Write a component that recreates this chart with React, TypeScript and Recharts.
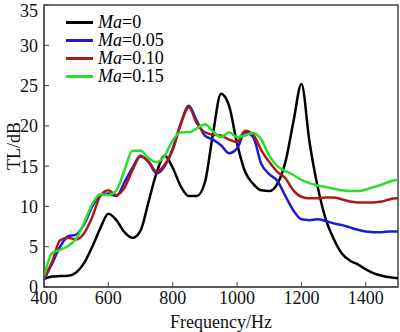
import React from "react";
import { LineChart, Line, XAxis, YAxis, ReferenceArea } from "recharts";

const freq = [
  400, 425, 450, 475, 500, 525, 550, 575, 600, 625, 650, 675, 700, 725, 750,
  775, 800, 825, 850, 875, 900, 925, 950, 975, 1000, 1025, 1050, 1075, 1100,
  1125, 1150, 1175, 1200, 1225, 1250, 1275, 1300, 1325, 1350, 1375, 1400,
  1425, 1450, 1475, 1500,
];

const ma0 = [
  1.0, 1.3, 1.35, 1.4, 1.8, 3.0, 5.0, 7.3, 9.1, 8.3, 6.8, 6.1, 7.0, 10.6, 14.2,
  16.3, 14.8, 12.5, 11.3, 11.3, 13.0, 19.0, 24.0, 22.5, 17.8, 14.3, 12.8, 12.0,
  11.9, 12.8, 15.5, 20.5, 25.2, 18.0, 12.5, 8.5, 6.0, 4.2, 3.3, 2.8, 2.2, 1.7,
  1.4, 1.2, 1.1,
];

const ma005 = [
  0.9, 2.9, 5.0, 6.3, 6.5, 7.8, 10.0, 11.4, 11.6, 11.3, 13.0, 14.8, 16.3, 15.5,
  14.1, 15.0, 17.2, 20.3, 22.5, 20.6, 18.8, 18.3, 17.6, 16.6, 17.2, 19.2, 18.6,
  15.3, 14.0, 13.2, 11.3, 9.5, 8.4, 8.3, 8.4, 8.2, 7.9, 7.7, 7.4, 7.1, 6.9,
  6.8, 6.8, 6.9, 6.9,
];

const ma010 = [
  1.1, 3.1, 5.8, 6.1, 5.9, 6.7, 8.7, 11.3, 12.0, 11.4, 12.3, 14.5, 16.2, 15.6,
  14.3, 15.2, 17.0, 20.2, 22.3, 20.3, 19.2, 18.9, 18.8, 18.3, 18.0, 19.4, 18.9,
  17.0, 15.5, 14.3, 13.5, 12.0, 11.2, 11.0, 11.0, 11.1, 11.1, 10.9, 10.6, 10.5,
  10.5, 10.5, 10.6, 10.9, 11.0,
];

const ma015 = [
  1.3, 4.2, 4.6, 5.1, 6.0, 8.0, 10.3, 11.5, 11.4, 12.0, 14.5, 16.9, 16.9, 16.0,
  15.5, 16.3, 18.2, 19.2, 19.2, 19.7, 20.2, 19.3, 18.6, 19.2, 18.6, 18.8, 19.1,
  18.3, 16.3, 15.0, 14.4, 13.9, 13.3, 12.9, 12.6, 12.4, 12.2, 12.0, 11.9, 11.9,
  12.1, 12.4, 12.7, 13.1, 13.3,
];

const xTicks = [400, 600, 800, 1000, 1200, 1400];
const yTicks = [0, 5, 10, 15, 20, 25, 30, 35];

const series = [
  { key: "ma0", label: "0", color: "#000000" },
  { key: "ma005", label: "0.05", color: "#1c1cd0" },
  { key: "ma010", label: "0.10", color: "#b01818" },
  { key: "ma015", label: "0.15", color: "#26e026" },
];

const data = freq.map((f, i) => ({
  f,
  ma0: ma0[i],
  ma005: ma005[i],
  ma010: ma010[i],
  ma015: ma015[i],
}));

const font = '"Liberation Serif", "Times New Roman", serif';

// legend sits inside the plot, top-left, drawn as plain html over the svg
const LegendBox = () => (
  <div
    style={{
      position: "absolute",
      left: 66,
      top: 13,
      fontFamily: font,
      fontSize: 18,
      lineHeight: "18px",
    }}
  >
    {series.map((s) => (
      <div key={s.key} style={{ display: "flex", alignItems: "center" }}>
        <span
          style={{
            display: "inline-block",
            width: 27,
            height: 3,
            background: s.color,
            marginRight: 5,
          }}
        />
        <span style={{ color: "#000" }}>
          <i>Ma</i>={s.label}
        </span>
      </div>
    ))}
  </div>
);

export default function App() {
  return (
    <div
      style={{
        position: "absolute",
        left: 0,
        top: 0,
        width: 400,
        height: 332,
        background: "#fff",
      }}
    >
      <LineChart
        width={400}
        height={332}
        data={data}
        margin={{ top: 5, right: 2, left: 0, bottom: 0 }}
      >
        <XAxis
          dataKey="f"
          type="number"
          domain={[400, 1500]}
          ticks={xTicks}
          allowDataOverflow
          height={45}
          tickSize={-5}
          tickMargin={9}
          stroke="#444"
          tick={{ fill: "#111", fontSize: 18, fontFamily: font }}
          label={{
            value: "Frequency/Hz",
            position: "insideBottom",
            offset: 4,
            style: { fill: "#111", fontSize: 18, fontFamily: font },
          }}
        />
        <YAxis
          type="number"
          domain={[0, 35]}
          ticks={yTicks}
          allowDataOverflow
          width={44}
          tickSize={-5}
          tickMargin={11}
          stroke="#444"
          tick={{ fill: "#111", fontSize: 18, fontFamily: font }}
          label={{
            value: "TL/dB",
            angle: -90,
            position: "insideLeft",
            offset: 14,
            style: {
              fill: "#111",
              fontSize: 18,
              fontFamily: font,
              textAnchor: "middle",
            },
          }}
        />
        <ReferenceArea
          x1={400}
          x2={1500}
          y1={0}
          y2={35}
          fill="none"
          stroke="#444"
          strokeWidth={1.5}
        />
        {series.map((s) => (
          <Line
            key={s.key}
            dataKey={s.key}
            type="monotone"
            stroke={s.color}
            strokeWidth={2.5}
            dot={false}
            isAnimationActive={false}
          />
        ))}
      </LineChart>
      <LegendBox />
    </div>
  );
}
